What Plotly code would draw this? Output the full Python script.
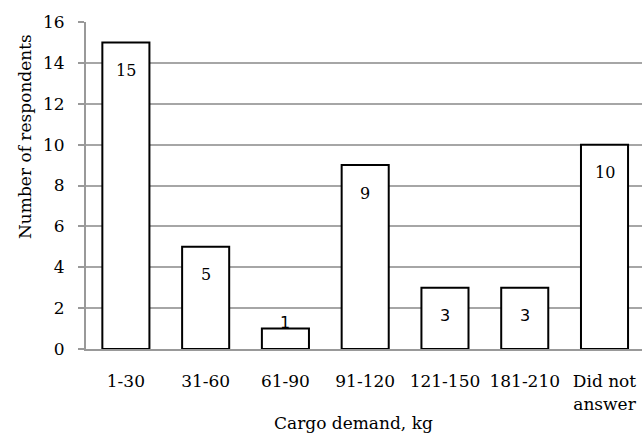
import plotly.graph_objects as go

categories = ["1-30", "31-60", "61-90", "91-120", "121-150", "181-210", "Did not<br>answer"]
values = [15, 5, 1, 9, 3, 3, 10]
y_ticks = [0, 2, 4, 6, 8, 10, 12, 14, 16]

SERIF = "DejaVu Serif"
PLOT_TOP, PLOT_BOTTOM = 22, 349
px_per_unit = (PLOT_BOTTOM - PLOT_TOP) / 16.0

fig = go.Figure()
fig.add_trace(go.Bar(
    x=list(range(len(categories))),
    y=values,
    width=0.59,
    marker=dict(color="white", line=dict(color="black", width=2)),
    hoverinfo="x+y",
))

annotations = []
for i, v in enumerate(values):
    small = v * px_per_unit < 40
    annotations.append(dict(
        x=i, y=v, xref="x", yref="y", text=str(v), showarrow=False,
        yanchor="middle", xanchor="center",
        yshift=6 if small else -28,
        font=dict(family="DejaVu Sans" if v <= 3 else SERIF, size=16, color="black"),
    ))

annotations.append(dict(
    text="Number of respondents", textangle=-90, showarrow=False,
    xref="paper", yref="paper", x=(25 - 86) / 556, y=(349 - 137) / 327,
    xanchor="center", yanchor="middle",
    font=dict(family=SERIF, size=17, color="black"),
))
annotations.append(dict(
    text="Cargo demand, kg", showarrow=False,
    xref="paper", yref="paper", x=(353 - 86) / 556, y=(349 - 423) / 327,
    xanchor="center", yanchor="middle",
    font=dict(family=SERIF, size=17, color="black"),
))

fig.update_layout(
    width=642, height=434,
    margin=dict(l=86, r=0, t=22, b=85, pad=0),
    paper_bgcolor="white", plot_bgcolor="white",
    showlegend=False,
    font=dict(family=SERIF, size=17, color="black"),
    annotations=annotations,
    xaxis=dict(
        tickmode="array", tickvals=list(range(len(categories))), ticktext=categories,
        range=[-0.5, 6.47], showgrid=False, showline=True, linecolor="#999999", linewidth=2,
        ticks="", tickfont=dict(family=SERIF, size=17), ticklabelstandoff=16,
        zeroline=False,
    ),
    yaxis=dict(
        range=[0, 16], tickmode="array", tickvals=y_ticks,
        showgrid=True, gridcolor="#a6a6a6", gridwidth=1.5,
        showline=True, linecolor="#999999", linewidth=2,
        ticks="outside", ticklen=6, tickcolor="#999999", tickwidth=1.5,
        tickfont=dict(family=SERIF, size=17), ticklabelstandoff=10,
        zeroline=False,
    ),
)

fig.write_html("out.html", post_script="document.body.style.margin='0';document.body.style.overflow='hidden';",
               config={"displayModeBar": False})
